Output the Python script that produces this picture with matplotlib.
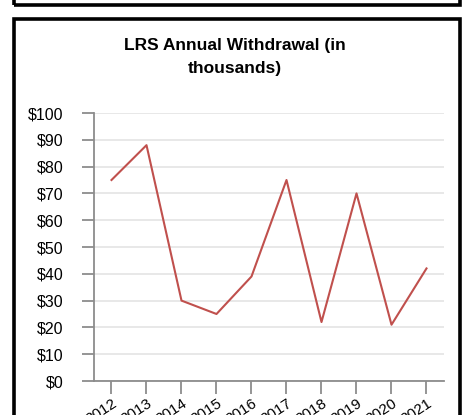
import matplotlib.pyplot as plt
from matplotlib.patches import Rectangle
from matplotlib.ticker import FuncFormatter

years = ["2012", "2013", "2014", "2015", "2016", "2017", "2018", "2019", "2020", "2021"]
withdrawals = [75, 88, 30, 25, 39, 75, 22, 70, 21, 42]
y_ticks = [0, 10, 20, 30, 40, 50, 60, 70, 80, 90, 100]

W, H = 464, 415
fig = plt.figure(figsize=(W / 100, H / 100), dpi=100)
plt.rcParams["font.family"] = ["Liberation Sans", "DejaVu Sans"]


def px_rect(x0, y0, x1, y1):
    # pixel box (top-left origin) -> figure fraction rectangle
    return Rectangle((x0 / W, 1 - y1 / H), (x1 - x0) / W, (y1 - y0) / H,
                     transform=fig.transFigure, fill=False,
                     edgecolor="black", linewidth=2.6, zorder=5)


# card frames: the tail of the one above and the chart card itself
fig.patches.append(px_rect(14.5, -20, 460.5, 5.5))
fig.patches.append(px_rect(14.5, 19, 460.5, 440))

ax = fig.add_axes([94 / W, 1 - 381 / H, 350 / W, 268 / H])
x = list(range(len(years)))
ax.plot(x, withdrawals, color="#c0504d", linewidth=1.5, zorder=3)

ax.set_xlim(-0.5, len(years) - 0.5)
ax.set_ylim(0, 100)
ax.set_yticks(y_ticks)
ax.yaxis.set_major_formatter(FuncFormatter(lambda v, _: f"${v:.0f}"))
ax.set_xticks(x)
ax.set_xticklabels(years, rotation=33, ha="right", rotation_mode="anchor")

for side in ("top", "right"):
    ax.spines[side].set_visible(False)
for side in ("left", "bottom"):
    ax.spines[side].set_color("#8c8c8c")
    ax.spines[side].set_linewidth(1.3)

ax.grid(axis="y", color="#e6e6e6", linewidth=1.3, zorder=0)
ax.set_axisbelow(True)
ax.tick_params(axis="y", length=9, width=1.3, color="#8c8c8c",
               pad=13, labelsize=11.5, labelcolor="black")
ax.tick_params(axis="x", length=9, width=1.3, color="#8c8c8c",
               pad=2, labelsize=11, labelcolor="black")

fig.text(235 / W, 1 - 57 / H, "LRS Annual Withdrawal (in\nthousands)",
         ha="center", va="center", fontsize=12.5, fontweight="bold",
         linespacing=1.65)

fig.savefig("out.png", dpi=100)
